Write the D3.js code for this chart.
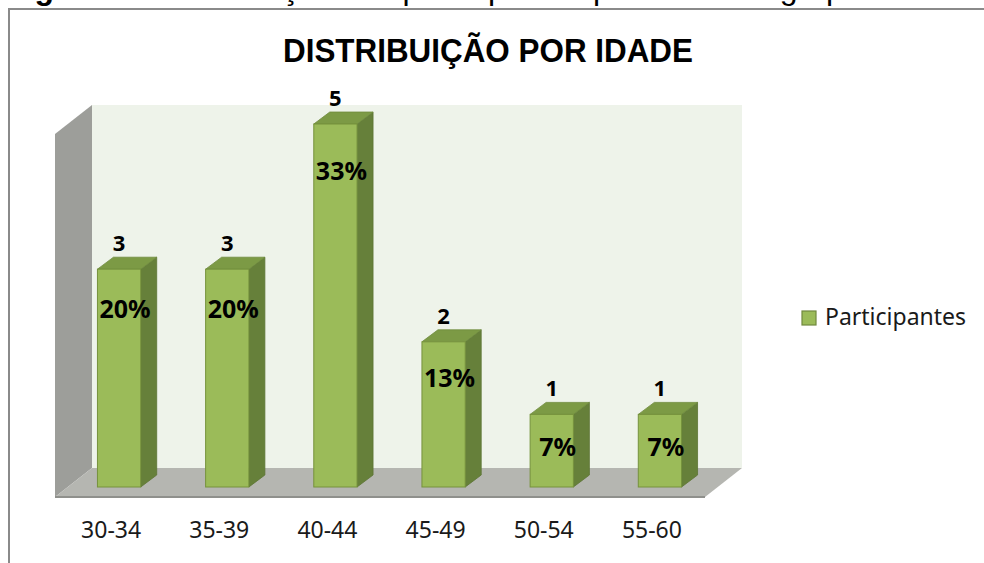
<!DOCTYPE html>
<html lang="pt">
<head>
    <meta charset="UTF-8">
    <title>Distribuição por idade</title>
    <script src="https://d3js.org/d3.v7.min.js"></script>
    <style>
      body { margin: 0; background: #fff; }
    </style>
</head>
<body>
    <div id="chart"></div>
    <script>

    // data
    const categories = ["30-34", "35-39", "40-44", "45-49", "50-54", "55-60"];
    const participantes = [3, 3, 5, 2, 1, 1];
    const percentages = ["20%", "20%", "33%", "13%", "7%", "7%"];
    const seriesName = "Participantes";
    const chartTitle = "DISTRIBUIÇÃO POR IDADE";
    const captionBold = "Figura 3";
    const captionRest = " – Distribuição dos participantes por idade do grupo";

    const width = 984, height = 563;

    // 3d box of the plot area
    const back = {left: 92, right: 742, top: 105, bottom: 468};
    const depth = {dx: -37, dy: 29};
    const barDepth = {dx: 16, dy: -12};

    const svg = d3.select("#chart")
      .append("svg")
        .attr("width", width)
        .attr("height", height);

    svg.append("rect")
      .attr("width", width)
      .attr("height", height)
      .attr("fill", "#fff");

    // caption of the figure, cut by the top of the page
    const cap = svg.append("text")
      .attr("x", 6)
      .attr("y", -1)
      .style("font-family", "'Liberation Sans', Arial, sans-serif")
      .style("font-size", "32px")
      .attr("fill", "#000");
    cap.append("tspan").attr("font-weight", "bold").text(captionBold);
    cap.append("tspan").text(captionRest);

    // chart border
    svg.append("path")
      .attr("d", `M9,${height} V9 H${width}`)
      .attr("fill", "none")
      .attr("stroke", "#8a8a8a")
      .attr("stroke-width", 2);

    // title
    svg.append("text")
      .attr("x", 488)
      .attr("y", 62)
      .attr("text-anchor", "middle")
      .attr("textLength", 410)
      .attr("lengthAdjust", "spacingAndGlyphs")
      .style("font-family", "'Liberation Sans', Arial, sans-serif")
      .style("font-size", "33px")
      .style("font-weight", "bold")
      .attr("fill", "#000")
      .text(chartTitle);

    // walls and floor
    svg.append("rect")
      .attr("x", back.left)
      .attr("y", back.top)
      .attr("width", back.right - back.left)
      .attr("height", back.bottom - back.top)
      .attr("fill", "#eef3ea");

    const pts = p => p.map(d => d.join(",")).join(" ");

    svg.append("polygon")
      .attr("points", pts([
        [back.left, back.top],
        [back.left + depth.dx, back.top + depth.dy],
        [back.left + depth.dx, back.bottom + depth.dy],
        [back.left, back.bottom]
      ]))
      .attr("fill", "#9d9e9a");

    svg.append("polygon")
      .attr("points", pts([
        [back.left, back.bottom],
        [back.right, back.bottom],
        [back.right + depth.dx, back.bottom + depth.dy],
        [back.left + depth.dx, back.bottom + depth.dy]
      ]))
      .attr("fill", "#b5b6b1");

    svg.append("line")
      .attr("x1", back.left + depth.dx)
      .attr("x2", back.right + depth.dx)
      .attr("y1", back.bottom + depth.dy)
      .attr("y2", back.bottom + depth.dy)
      .attr("stroke", "#8f908c")
      .attr("stroke-width", 2);

    // scales
    const x = d3.scaleBand()
      .domain(categories)
      .range([65, 714])
      .paddingInner(0.6)
      .paddingOuter(0.3);

    const y = d3.scaleLinear()
      .domain([0, 5])
      .range([487, 124]);

    const bw = x.bandwidth();
    const rows = categories.map((c, i) => ({cat: c, value: participantes[i], pct: percentages[i]}));

    // bars
    const bars = svg.append("g")
      .selectAll("g")
      .data(rows)
      .join("g");

    bars.append("polygon")
      .attr("points", d => {
        const x0 = x(d.cat) + bw, yt = y(d.value), yb = y(0);
        return pts([[x0, yt], [x0 + barDepth.dx, yt + barDepth.dy], [x0 + barDepth.dx, yb + barDepth.dy], [x0, yb]]);
      })
      .attr("fill", "#66803a")
      .attr("stroke", "#5c7434")
      .attr("stroke-width", 0.8);

    bars.append("polygon")
      .attr("points", d => {
        const x0 = x(d.cat), yt = y(d.value);
        return pts([[x0, yt], [x0 + barDepth.dx, yt + barDepth.dy], [x0 + bw + barDepth.dx, yt + barDepth.dy], [x0 + bw, yt]]);
      })
      .attr("fill", "#7c9a45")
      .attr("stroke", "#6e8a3d")
      .attr("stroke-width", 0.8);

    bars.append("rect")
      .attr("x", d => x(d.cat))
      .attr("y", d => y(d.value))
      .attr("width", bw)
      .attr("height", d => y(0) - y(d.value))
      .attr("fill", "#9bbb59")
      .attr("stroke", "#76923c")
      .attr("stroke-width", 1);

    // value labels above the bars
    bars.append("text")
      .attr("x", d => x(d.cat) + bw / 2)
      .attr("y", d => y(d.value) - 18)
      .attr("text-anchor", "middle")
      .style("font-family", "'Noto Sans', sans-serif")
      .style("font-size", "22px")
      .style("font-weight", "bold")
      .attr("fill", "#000")
      .text(d => d.value);

    // percentage labels on the bars
    bars.append("text")
      .attr("x", d => x(d.cat) + bw / 2 + 6)
      .attr("y", d => y(d.value * 0.95) + 38)
      .attr("text-anchor", "middle")
      .style("font-family", "'Noto Sans', sans-serif")
      .style("font-size", "25px")
      .style("font-weight", "bold")
      .attr("fill", "#000")
      .text(d => d.pct);

    // category axis along the front edge of the floor
    const xAxis = x.copy().range([65 - 8, 714 - 8]);
    const axis = svg.append("g")
      .attr("transform", `translate(0, ${back.bottom + depth.dy})`)
      .call(d3.axisBottom(xAxis).tickSize(0).tickPadding(25));
    axis.select(".domain").remove();
    axis.selectAll("text")
      .style("font-family", "'Noto Sans', sans-serif")
      .style("font-size", "23px")
      .attr("fill", "#1a1a1a");

    // legend
    const legend = svg.append("g").attr("transform", "translate(802, 311)");
    legend.append("rect")
      .attr("width", 14)
      .attr("height", 14)
      .attr("fill", "#9bbb59")
      .attr("stroke", "#71893f")
      .attr("stroke-width", 1.2);
    legend.append("text")
      .attr("x", 23)
      .attr("y", 14)
      .style("font-family", "'Noto Sans', sans-serif")
      .style("font-size", "23px")
      .attr("fill", "#1a1a1a")
      .text(seriesName);

  </script>
</body>
</html>
